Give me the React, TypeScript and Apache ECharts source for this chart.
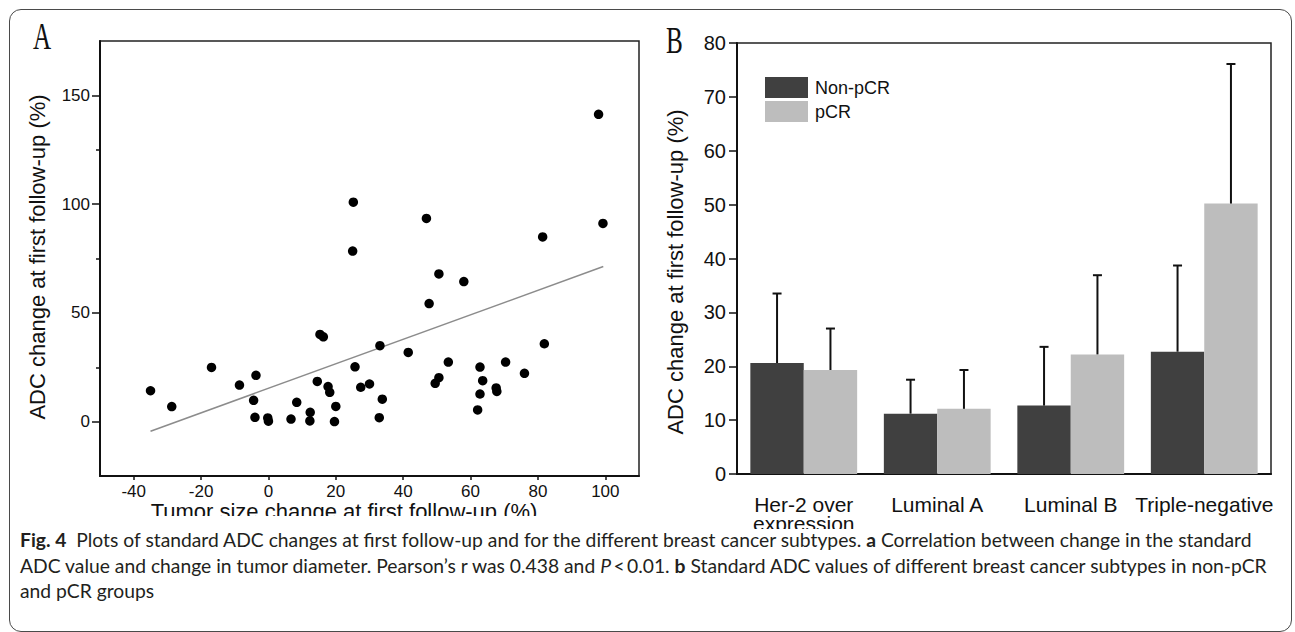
import React, { useEffect, useRef } from "react";
import * as echarts from "echarts";

// ---------- Panel A: scatter ----------
const scatterPoints: [number, number][] = [
  [-35, 14.2], [-28.7, 6.9], [-16.9, 24.9], [-8.6, 16.8], [-3.7, 21.3], [-4.4, 9.8],
  [-4, 2], [-0.2, 1.7], [0, 0.2], [6.7, 1.2], [8.4, 8.9], [12.4, 4.3], [12.3, 0.3],
  [14.5, 18.5], [15.3, 40.1], [16.3, 39], [17.7, 16.1], [18.2, 13.5], [20, 7], [19.6, 0],
  [25.2, 100.9], [25, 78.4], [25.7, 25.2], [27.4, 15.8], [30, 17.3], [33.1, 34.9],
  [33.8, 10.3], [32.9, 1.8], [41.5, 31.8], [46.9, 93.4], [47.7, 54.3], [49.5, 17.6],
  [50.6, 20.2], [50.6, 67.9], [53.4, 27.4], [58, 64.4], [62.1, 5.4], [62.8, 12.7],
  [62.8, 25.1], [63.6, 18.8], [67.6, 15.5], [67.8, 13.9], [70.4, 27.4], [76, 22.2],
  [81.4, 84.9], [81.9, 35.8], [98, 141.3], [99.3, 91.1],
];
const fitLine: [number, number][] = [[-35, -4.4], [99.4, 71.3]];
const xTicksA = [-40, -20, 0, 20, 40, 60, 80, 100];
const yLabelTicksA = [0, 50, 100, 150];
const yMinorTicksA = [25, 75, 125];

// ---------- Panel B: bars ----------
const subtypes = ["Her-2 over\nexpression", "Luminal A", "Luminal B", "Triple-negative"];
const nonPcrMean = [20.6, 11.2, 12.7, 22.7];
const nonPcrSd = [12.9, 6.3, 10.9, 16.0];
const pcrMean = [19.3, 12.1, 22.2, 50.2];
const pcrSd = [7.7, 7.2, 14.7, 25.9];

const SANS = "'Liberation Sans', Arial, Helvetica, sans-serif";
const SERIF = "'Liberation Serif', 'Times New Roman', serif";
const INK = "#111111";

function errorSeries(means: number[], sds: number[], sign: number) {
  return {
    type: "custom",
    xAxisIndex: 1,
    yAxisIndex: 2,
    silent: true,
    z: 5,
    data: means.map((m, i) => [i, m, m + sds[i]]),
    renderItem: (_p: any, api: any) => {
      const idx = api.value(0);
      const lo = api.coord([idx, api.value(1)]);
      const hi = api.coord([idx, api.value(2)]);
      const band = api.size([1, 0])[0];
      const x = lo[0] + sign * band * 0.2;
      const cap = 4.5;
      return {
        type: "group",
        children: [
          { type: "line", shape: { x1: x, y1: lo[1], x2: x, y2: hi[1] }, style: { stroke: INK, lineWidth: 2 } },
          { type: "line", shape: { x1: x - cap, y1: hi[1], x2: x + cap, y2: hi[1] }, style: { stroke: INK, lineWidth: 2 } },
        ],
      };
    },
  };
}

export default function App() {
  const ref = useRef<HTMLDivElement>(null);

  useEffect(() => {
    if (!ref.current) return;
    const chart = echarts.init(ref.current, undefined, { renderer: "svg" });
    const option: any = {
      animation: false,
      backgroundColor: "transparent",
      grid: [
        { left: 100, top: 41, width: 539, height: 435, outerBoundsMode: "none", containLabel: false, show: true, borderColor: "#222", borderWidth: 1.5, backgroundColor: "transparent" },
        { left: 737, top: 43, width: 534, height: 431, outerBoundsMode: "none", containLabel: false, show: true, borderColor: "#222", borderWidth: 1.5, backgroundColor: "transparent" },
      ],
      legend: {
        data: ["Non-pCR", "pCR"],
        orient: "vertical",
        left: 760,
        top: 72,
        itemWidth: 43,
        itemHeight: 21,
        itemGap: 3,
        icon: "rect",
        selectedMode: false,
        textStyle: { fontFamily: SANS, fontSize: 18, color: INK, padding: [0, 0, 0, 2] },
      },
      xAxis: [
        {
          gridIndex: 0,
          type: "value",
          min: -50,
          max: 110,
          axisLine: { onZero: false, lineStyle: { color: INK, width: 2 } },
          axisTick: { customValues: xTicksA, length: 4, lineStyle: { color: INK, width: 1.5 } },
          axisLabel: { customValues: xTicksA, fontFamily: SANS, fontSize: 17, color: INK, margin: 7 },
          splitLine: { show: false },
        },
        {
          gridIndex: 1,
          type: "category",
          data: subtypes,
          axisLine: { lineStyle: { color: INK, width: 2 } },
          axisTick: { show: false },
          axisLabel: { fontFamily: SANS, fontSize: 21, color: INK, margin: 21, lineHeight: 19, interval: 0 },
        },
      ],
      yAxis: [
        {
          gridIndex: 0,
          type: "value",
          min: -25,
          max: 175,
          interval: 25,
          axisLine: { show: true, onZero: false, lineStyle: { color: INK, width: 2 } },
          axisTick: { show: true, customValues: yLabelTicksA, length: 8, lineStyle: { color: INK, width: 1.5 } },
          axisLabel: { customValues: yLabelTicksA, fontFamily: SANS, fontSize: 17, color: INK, margin: 10 },
          splitLine: { show: false },
        },
        {
          gridIndex: 0,
          type: "value",
          position: "left",
          min: -25,
          max: 175,
          interval: 25,
          axisLine: { show: false, onZero: false },
          axisTick: { show: true, customValues: yMinorTicksA, length: 4, lineStyle: { color: INK, width: 1.5 } },
          axisLabel: { show: false },
          splitLine: { show: false },
        },
        {
          gridIndex: 1,
          type: "value",
          min: 0,
          max: 80,
          interval: 10,
          axisLine: { show: true, lineStyle: { color: INK, width: 2 } },
          axisTick: { show: true, length: 8, lineStyle: { color: INK, width: 1.5 } },
          axisLabel: { fontFamily: SANS, fontSize: 20, color: INK, margin: 11 },
          splitLine: { show: false },
        },
      ],
      series: [
        {
          name: "fit",
          type: "line",
          xAxisIndex: 0,
          yAxisIndex: 0,
          data: fitLine,
          symbol: "none",
          silent: true,
          lineStyle: { color: "#8c8c8c", width: 1.5 },
          z: 1,
        },
        {
          name: "points",
          type: "scatter",
          xAxisIndex: 0,
          yAxisIndex: 0,
          data: scatterPoints,
          symbolSize: 9.5,
          itemStyle: { color: "#000", opacity: 1 },
          z: 3,
        },
        {
          name: "Non-pCR",
          type: "bar",
          xAxisIndex: 1,
          yAxisIndex: 2,
          data: nonPcrMean,
          barGap: "0%",
          barCategoryGap: "20%",
          itemStyle: { color: "#404040" },
        },
        {
          name: "pCR",
          type: "bar",
          xAxisIndex: 1,
          yAxisIndex: 2,
          data: pcrMean,
          barGap: "0%",
          barCategoryGap: "20%",
          itemStyle: { color: "#bdbdbd" },
        },
        errorSeries(nonPcrMean, nonPcrSd, -1),
        errorSeries(pcrMean, pcrSd, 1),
      ],
      graphic: [
        {
          type: "text",
          x: 33,
          y: 37,
          scaleX: 0.68,
          style: { text: "A", fontFamily: SERIF, fontSize: 37, fill: INK, textAlign: "left", textVerticalAlign: "middle" },
        },
        {
          type: "text",
          x: 666,
          y: 41,
          scaleX: 0.68,
          style: { text: "B", fontFamily: SERIF, fontSize: 37, fill: INK, textAlign: "left", textVerticalAlign: "middle" },
        },
        {
          type: "text",
          x: 37,
          y: 257,
          rotation: Math.PI / 2,
          style: { text: "ADC change at first follow-up (%)", fontFamily: SANS, fontSize: 22, fill: INK, textAlign: "center", textVerticalAlign: "middle" },
        },
        {
          type: "text",
          x: 675,
          y: 272,
          rotation: Math.PI / 2,
          style: { text: "ADC change at first follow-up (%)", fontFamily: SANS, fontSize: 22, fill: INK, textAlign: "center", textVerticalAlign: "middle" },
        },
        {
          type: "text",
          x: 344,
          y: 511,
          style: { text: "Tumor size change at first follow-up (%)", fontFamily: SANS, fontSize: 22, fill: INK, textAlign: "center", textVerticalAlign: "middle" },
        },
        {
          type: "rect",
          z: 100,
          silent: true,
          shape: { x: 90, y: 516, width: 580, height: 25 },
          style: { fill: "#ffffff" },
        },
      ],
    };
    chart.setOption(option);
    return () => chart.dispose();
  }, []);

  return (
    <div style={{ position: "fixed", left: 0, top: 0, width: 1295, height: 632, background: "#fff", overflow: "hidden" }}>
      <div
        style={{
          position: "absolute",
          left: 9,
          top: 9,
          width: 1283,
          height: 623,
          border: "1px solid #4a4a4a",
          borderRadius: 12,
          boxSizing: "border-box",
        }}
      />
      <div ref={ref} style={{ position: "absolute", left: 0, top: 0, width: 1295, height: 529 }} />
      <div
        style={{
          position: "absolute",
          left: 20,
          top: 527,
          fontFamily: "Lato, 'Open Sans', sans-serif",
          fontSize: 19.3,
          lineHeight: "25.5px",
          color: "#231f20",
          whiteSpace: "nowrap",
        }}
      >
        <b>Fig. 4</b>&nbsp; Plots of standard ADC changes at first follow-up and for the different breast cancer subtypes. <b>a</b> Correlation between change in the standard
        <br />
        ADC value and change in tumor diameter. Pearson’s r was 0.438 and <i>P</i>{"\u2009<\u2009"}0.01. <b>b</b> Standard ADC values of different breast cancer subtypes in non-pCR
        <br />
        and pCR groups
      </div>
    </div>
  );
}
